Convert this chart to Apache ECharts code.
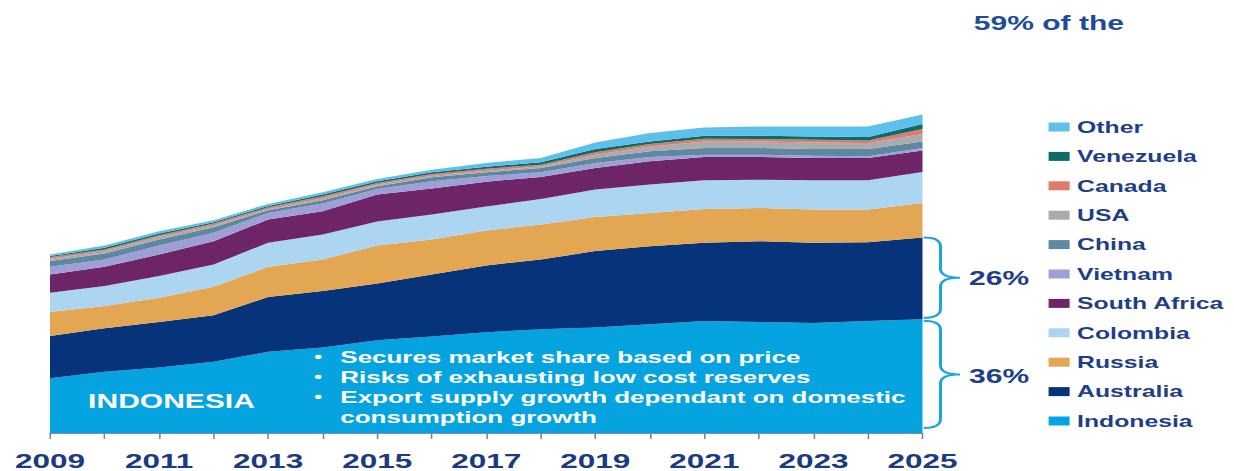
<!DOCTYPE html>
<html>
<head>
<meta charset="utf-8">
<script src="https://cdn.jsdelivr.net/npm/echarts@6/dist/echarts.min.js"></script>
<style>
  html, body { margin: 0; padding: 0; background: #ffffff; overflow: hidden; }
  /* the slide artwork is laid out narrow and stretched wide */
  #chart { width: 822px; height: 471px; transform: scaleX(1.5012); transform-origin: 0 0; }
</style>
</head>
<body>
<div id="chart"></div>
<script>
// Seaborne thermal coal exports by country (Mt), 2009-2025
const years = ['2009','2010','2011','2012','2013','2014','2015','2016','2017','2018','2019','2020','2021','2022','2023','2024','2025'];

const indonesia   = [165,184,197,214,244,257,279,290,303,312,317,327,337,334,331,337,342];
const australia   = [127,131,137,140,165,170,171,187,201,210,230,235,235,243,241,237,246];
const russia      = [72,67,73,86,91,95,114,105,105,105,103,100,102,100,100,98,104];
const colombia    = [58,60,65,67,72,75,72,75,72,77,82,85,86,85,88,88,93];
const southAfrica = [55,58,65,70,70,70,81,78,75,66,65,70,70,68,67,67,65];
const vietnam     = [23,22,27,25,20,23,17,22,17,14,15,13,7,7,7,5,7];
const china       = [17,18,18,17,8,10,8,12,11,13,15,17,20,20,20,22,20];
const usa         = [7,7,8,6,4,6,5,5,5,5,10,15,20,20,20,18,22];
const canada      = [5,5,5,5,5,6,5,5,6,5,7,7,8,7,8,8,15];
const venezuela   = [3,5,5,4,4,5,5,5,6,7,10,8,9,10,10,10,15];
const other       = [5,7,7,6,6,7,7,8,11,13,20,25,25,28,30,32,29];

const countries = ['Indonesia','Australia','Russia','Colombia','South Africa','Vietnam','China','USA','Canada','Venezuela','Other'];
const values    = [indonesia, australia, russia, colombia, southAfrica, vietnam, china, usa, canada, venezuela, other];
const colors    = ['#05A4E1','#06337A','#E3A653','#ABD5F1','#6E2567','#9D9FD6','#5E87A0','#A9ABAF','#E07B6B','#0E6C66','#5CC0EB'];

const bulletLines = [
  'Secures market share based on price',
  'Risks of exhausting low cost reserves',
  'Export supply growth dependant on domestic',
  'consumption growth'
];

const FONT = "'Liberation Sans', Arial, sans-serif";
const NAVY_TEXT = '#1E3F87';

const chart = echarts.init(document.getElementById('chart'), null, { renderer: 'svg' });

chart.setOption({
  animation: false,
  grid: { left: 33.3, right: 207.5, top: 34, bottom: 37 },
  xAxis: {
    type: 'category',
    data: years,
    boundaryGap: false,
    axisLine: { lineStyle: { color: '#7D8BA8', width: 1 } },
    axisTick: { show: true, interval: 0, length: 6, lineStyle: { color: '#6F7FA0', width: 1 } },
    axisLabel: { interval: 1, margin: 17, color: '#1B3A80', fontSize: 21, fontWeight: 'bold', fontFamily: FONT },
    splitLine: { show: false }
  },
  yAxis: {
    type: 'value', min: 0, max: 1200, show: false
  },
  legend: {
    orient: 'vertical',
    left: 698.5,
    top: 118.5,
    padding: 0,
    icon: 'rect',
    itemWidth: 14,
    itemHeight: 9,
    itemGap: 12.4,
    selectedMode: false,
    data: countries.slice().reverse(),
    textStyle: { color: NAVY_TEXT, fontSize: 16.5, fontWeight: 'bold', fontFamily: FONT, lineHeight: 17 }
  },
  series: countries.map((name, i) => ({
    name: name,
    type: 'line',
    stack: 'exports',
    data: values[i],
    symbol: 'none',
    silent: true,
    lineStyle: { width: 0 },
    itemStyle: { color: colors[i] },
    areaStyle: { color: colors[i], opacity: 1 },
    emphasis: { disabled: true }
  }))
});

// Braces and share labels for the 2025 column, placed from the data scale
const last = years.length - 1;
const total = values.reduce((s, arr) => s + arr[last], 0);
const indoTop = indonesia[last];
const ausTop = indonesia[last] + australia[last];
const [px, yAus] = chart.convertToPixel({ gridIndex: 0 }, [last, ausTop]);
const yIndo = chart.convertToPixel({ gridIndex: 0 }, [last, indoTop])[1];
const yBase = chart.convertToPixel({ gridIndex: 0 }, [last, 0])[1];

// quadratic curve sampled into polyline points
function quad(p0, c, p1, n) {
  const pts = [];
  for (let k = 1; k <= n; k++) {
    const t = k / n, u = 1 - t;
    pts.push([u * u * p0[0] + 2 * u * t * c[0] + t * t * p1[0],
              u * u * p0[1] + 2 * u * t * c[1] + t * t * p1[1]]);
  }
  return pts;
}
function bracePoints(x0, xv, xt, y1, y2) {
  const ym = (y1 + y2) / 2;
  const r = 9;
  let pts = [[x0, y1]];
  pts = pts.concat(quad([x0, y1], [xv, y1], [xv, y1 + r], 8));
  pts.push([xv, ym - r]);
  pts = pts.concat(quad([xv, ym - r], [xv, ym], [xt, ym], 8));
  pts = pts.concat(quad([xt, ym], [xv, ym], [xv, ym + r], 8));
  pts.push([xv, y2 - r]);
  pts = pts.concat(quad([xv, y2 - r], [xv, y2], [x0, y2], 8));
  return pts;
}

const bx0 = px + 0.8, bxv = px + 12, bxt = px + 25;
const ausShare = Math.round(australia[last] / total * 100) + '%';
const indoShare = Math.round(indonesia[last] / total * 100) + '%';

const graphics = [
  {
    type: 'polyline',
    shape: { points: bracePoints(bx0, bxv, bxt, yAus, yIndo - 1.5) },
    style: { fill: null, stroke: '#1BA3E3', lineWidth: 2 }
  },
  {
    type: 'polyline',
    shape: { points: bracePoints(bx0, bxv, bxt, yIndo + 1.5, yBase - 5) },
    style: { fill: null, stroke: '#1BA3E3', lineWidth: 2 }
  },
  {
    type: 'text', x: px + 31, y: (yAus + yIndo) / 2,
    style: { text: ausShare, fill: NAVY_TEXT, font: 'bold 20px ' + FONT, align: 'left', verticalAlign: 'middle' }
  },
  {
    type: 'text', x: px + 31, y: (yIndo + yBase) / 2,
    style: { text: indoShare, fill: NAVY_TEXT, font: 'bold 20px ' + FONT, align: 'left', verticalAlign: 'middle' }
  },
  {
    type: 'text', x: 648.7, y: 22.7,
    style: { text: '59% of the', fill: '#1F4C98', font: 'bold 20px ' + FONT, align: 'left', verticalAlign: 'middle' }
  },
  {
    type: 'text', x: 58.7, y: 400.5,
    style: { text: 'INDONESIA', fill: '#ffffff', font: 'bold 20px ' + FONT, align: 'left', verticalAlign: 'middle' }
  },
  {
    type: 'text', x: 226.7, y: 347,
    style: { text: bulletLines.join('\n'), fill: '#ffffff', font: 'bold 17.3px ' + FONT, lineHeight: 20, align: 'left', verticalAlign: 'top' }
  }
];
// bullet marks for the first three lines
for (let i = 0; i < 3; i++) {
  graphics.push({
    type: 'text', x: 212, y: 357 + i * 20,
    style: { text: '•', fill: '#ffffff', font: 'bold 15px ' + FONT, align: 'center', verticalAlign: 'middle' }
  });
}
// keep annotations above the stacked areas
graphics.forEach(g => { g.z = 100; g.silent = true; });

chart.setOption({ graphic: graphics });
</script>
</body>
</html>
